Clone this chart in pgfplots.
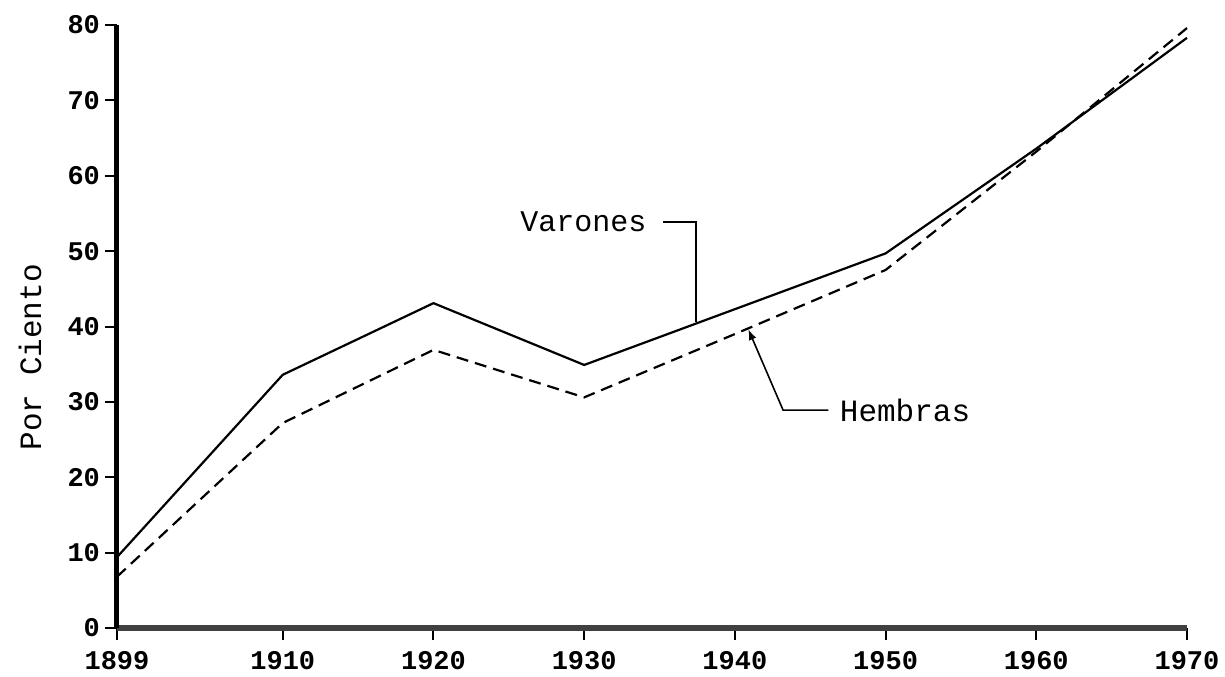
\documentclass[border=0pt]{standalone}
\usepackage{pgfplots}
\pgfplotsset{compat=1.18}
\usepackage{fontspec}
\setmainfont{Liberation Mono}
\begin{document}
\begin{tikzpicture}
\begin{axis}[
  at={(0,0)}, anchor=south west,
  scale only axis, width=535pt, height=301.5pt,
  xmin=1899, xmax=1970, ymin=0, ymax=80,
  axis lines*=left,
  x axis line style={line width=3pt, black!75},
  y axis line style={line width=2.5pt, black},
  xtick={1899,1910,1920,1930,1940,1950,1960,1970},
  xticklabels={1899,1910,1920,1930,1940,1950,1960,1970},
  ytick={0,10,20,30,40,50,60,70,80},
  tick align=outside,
  major tick length=6pt,
  tick style={black, line width=1pt},
  /pgf/number format/assume math mode=true,
  ticklabel style={font=\fontsize{13.5}{14}\selectfont\bfseries},
  xticklabel style={yshift=-2pt},
  yticklabel style={xshift=1pt},
  ylabel={Por Ciento},
  ylabel style={at={(axis description cs:-0.0813,0.449)}, anchor=center, font=\fontsize{15.5}{16}\selectfont},
  clip=false,
]
\addplot[black, line width=1.1pt] coordinates {
 (1899,9.4) (1910,33.6) (1920,43.1) (1930,34.9) (1940,42.3) (1950,49.7) (1960,63.6) (1970,78.3)};
\addplot[black, line width=1.1pt, dash pattern=on 6pt off 3.5pt] coordinates {
 (1899,6.8) (1910,27.2) (1920,36.9) (1930,30.6) (1940,39.0) (1950,47.5) (1960,63.2) (1970,79.6)};
\node[font=\fontsize{15}{16}\selectfont, anchor=east] at (axis cs:1934.6,53.9) {Varones};
\draw[black, line width=0.8pt] (axis cs:1935.2,53.9) -- (axis cs:1937.4,53.9) -- (axis cs:1937.4,40.6);
\node[font=\fontsize{15.5}{16}\selectfont, anchor=west] at (axis cs:1946.5,28.9) {Hembras};
\draw[black, line width=0.8pt, -latex] (axis cs:1946.2,28.9) -- (axis cs:1943.2,28.9) -- (axis cs:1940.9,39.6);
\end{axis}
\pgfresetboundingbox
\path (-58.5pt,-24pt) rectangle (554pt,314pt);
\end{tikzpicture}
\end{document}
